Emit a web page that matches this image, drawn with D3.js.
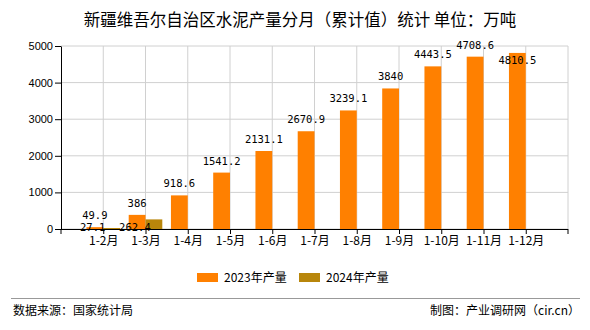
<!DOCTYPE html>
<html><head><meta charset="utf-8">
<script src="https://cdn.jsdelivr.net/npm/d3@7"></script>
<style>body{margin:0;background:#fff}svg{display:block}</style>
</head><body>
<svg id="c" width="590" height="330"></svg>
<script>
const categories = ["1-2月","1-3月","1-4月","1-5月","1-6月","1-7月","1-8月","1-9月","1-10月","1-11月","1-12月"];
const values2023 = [49.9,386,918.6,1541.2,2131.1,2670.9,3239.1,3840,4443.5,4708.6,4810.5];
const values2024 = [27.1,262.4,null,null,null,null,null,null,null,null,null];
const yTicks = [0,1000,2000,3000,4000,5000];
const seriesNames = ["2023年产量","2024年产量"];
const colors = ["#FF8000","#B8860B"];

const svg = d3.select("#c");
const L=61,R=568,T=46,B=229;
const x = d3.scalePoint().domain(categories).range([L,R]).padding(1);
const y = d3.scaleLinear().domain([0,5000]).range([B,T]);
const bw = 16.8;
const cjk = "'Noto Sans CJK SC','Noto Sans',sans-serif";

svg.append("text").attr("x",300).attr("y",26).attr("text-anchor","middle")
  .attr("font-family",cjk).attr("font-size",16.5).attr("fill","#000")
  .text("新疆维吾尔自治区水泥产量分月（累计值）统计 单位：万吨");

// grid
const g = svg.append("g");
g.selectAll(".hg").data(yTicks).join("line").attr("x1",L).attr("x2",R)
  .attr("y1",d=>y(d)).attr("y2",d=>y(d)).attr("stroke","#d0d0d0");
g.selectAll(".vg").data(categories).join("line").attr("x1",d=>x(d)).attr("x2",d=>x(d))
  .attr("y1",T).attr("y2",B).attr("stroke","#d0d0d0");
g.append("line").attr("x1",R).attr("x2",R).attr("y1",T).attr("y2",B).attr("stroke","#d0d0d0");

// bars
svg.append("g").selectAll("rect").data(values2023).join("rect")
  .attr("x",(d,i)=>x(categories[i])-bw).attr("width",bw)
  .attr("y",d=>y(d)).attr("height",d=>B-y(d)).attr("fill",colors[0]);
svg.append("g").selectAll("rect").data(values2024.map((v,i)=>({v,i})).filter(d=>d.v!=null)).join("rect")
  .attr("x",d=>x(categories[d.i])).attr("width",bw)
  .attr("y",d=>y(d.v)).attr("height",d=>B-y(d.v)).attr("fill",colors[1]);

// axes
const xAxis = d3.axisBottom(x).tickSize(5).tickSizeOuter(0).tickFormat(d=>d);
const xa = svg.append("g").attr("transform",`translate(0,${B})`).call(xAxis);
xa.select(".domain").attr("d",`M${L-4},0.5H${R}`).attr("stroke","#000");
xa.append("line").attr("x1",L).attr("x2",L).attr("y1",0).attr("y2",5).attr("stroke","#000");
xa.append("line").attr("x1",R).attr("x2",R).attr("y1",0).attr("y2",5).attr("stroke","#000");
xa.selectAll(".tick line").attr("stroke","#000");
xa.selectAll(".tick text").attr("font-family",cjk).attr("font-size",12).attr("fill","#000").attr("dy","0.95em").attr("y",5);

const yAxis = d3.axisLeft(y).tickValues(yTicks).tickSize(6).tickSizeOuter(0).tickFormat(d3.format("d"));
const ya = svg.append("g").attr("transform",`translate(${L},0)`).call(yAxis);
ya.select(".domain").attr("stroke","#000");
ya.selectAll(".tick line").attr("stroke","#000");
ya.selectAll(".tick text").attr("font-family","'Liberation Sans',Arial,sans-serif").attr("font-size",11).attr("fill","#000").attr("x",-8);
xa.raise();

// labels
const mono = "'DejaVu Sans Mono','Liberation Mono',monospace";
svg.append("g").selectAll("text").data(values2023).join("text")
  .attr("x",(d,i)=>x(categories[i])-bw/2)
  .attr("y",d=>{let b=y(d)-8; if(b<48) b=y(d)+11; return b;})
  .attr("text-anchor","middle").attr("font-family",mono).attr("font-size",10.5).attr("fill","#000")
  .text(d=>String(d));
svg.append("g").selectAll("text").data(values2024.map((v,i)=>({v,i})).filter(d=>d.v!=null)).join("text")
  .attr("x",d=>x(categories[d.i])+bw/2 - (y(d.v)+12>231?19:0))
  .attr("y",d=>Math.min(y(d.v)+12,231))
  .attr("text-anchor","middle").attr("font-family",mono).attr("font-size",10.5).attr("fill","#000")
  .text(d=>String(d.v));

// legend
const lg = svg.append("g");
const lx=[197,299];
seriesNames.forEach((n,i)=>{
  lg.append("rect").attr("x",lx[i]).attr("y",273).attr("width",21).attr("height",9).attr("fill",colors[i]);
  lg.append("text").attr("x",lx[i]+27).attr("y",282).attr("font-family",cjk).attr("font-size",12).attr("fill","#000").text(n);
});

// footer
svg.append("line").attr("x1",11).attr("x2",580).attr("y1",298.5).attr("y2",298.5).attr("stroke","#999");
svg.append("text").attr("x",13).attr("y",315).attr("font-family",cjk).attr("font-size",12).attr("fill","#000").text("数据来源：国家统计局");
svg.append("text").attr("x",580).attr("y",315).attr("text-anchor","end").attr("font-family",cjk).attr("font-size",12).attr("fill","#000").text("制图：产业调研网（cir.cn）");
</script>
</body></html>
